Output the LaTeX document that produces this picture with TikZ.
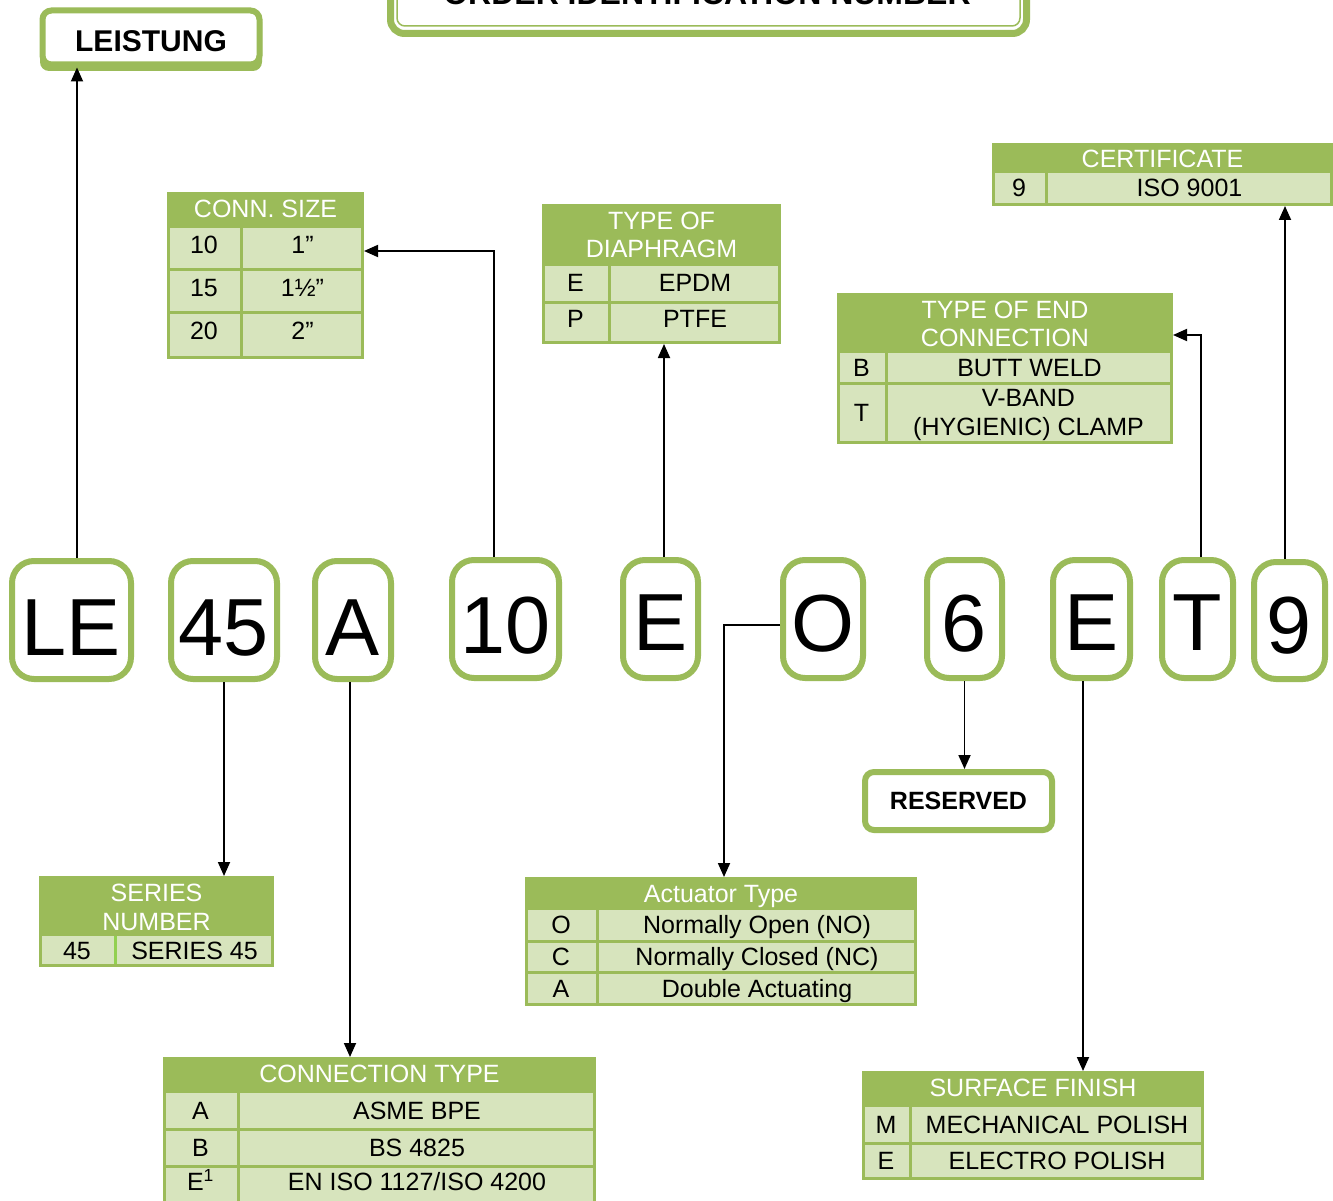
\documentclass[tikz,border=0pt]{standalone}
\usepackage{fontspec}
\setmainfont{Liberation Sans}
\usetikzlibrary{arrows.meta}
\definecolor{grn}{HTML}{9BBB59}
\definecolor{lgrn}{HTML}{D7E4BD}
\definecolor{bgrn}{HTML}{92D050}
\tikzset{
  lbox/.style={draw=grn, line width=6pt, rounded corners=22pt, fill=white, inner sep=0pt, font=\fontsize{81}{81}\selectfont},
  frame/.style={fill=grn, inner sep=0pt, outer sep=0pt, anchor=north west},
  tx/.style={font=\fontsize{25}{28.5}\selectfont, inner sep=0pt, text height=17.9pt, text depth=0pt},
  mtx/.style={font=\fontsize{25}{28.5}\selectfont, inner sep=0pt, align=center},
  htx/.style={tx, text=white},
  hmtx/.style={mtx, text=white},
  bbox/.style={draw=grn, line width=6pt, rounded corners=9pt, fill=white, inner sep=0pt},
  arr/.style={line width=1.8pt, -{Triangle[length=14pt,width=12pt]}},
}
\newcommand\lbx[7]{\node[lbox, minimum width={#4-#2-6}, minimum height={#5-#3-6}, text height=#7, text depth=0pt] (#1) at ({(#2+#4)/2},{(#3+#5)/2}) {#6};}
\newcommand\tfr[5]{\node[frame, minimum width={#4-#2}, minimum height={#5-#3}] (#1) at (#2,#3) {};}
% row: name, x1, xsplit, x2, ytop, ybottom, left, right, text y offset
\newcommand\trow[9]{%
  \fill[lgrn] (#2+3,#5+1.5) rectangle (#3-1.5,#6-1.5);
  \fill[lgrn] (#3+1.5,#5+1.5) rectangle (#4-3,#6-1.5);
  \node[tx] (#1l) at ({(#2+#3)/2},{(#5+#6)/2+#9}) {#7};
  \node[tx] (#1r) at ({(#3+#4)/2},{(#5+#6)/2+#9}) {#8};}
\begin{document}
\begin{tikzpicture}[x=1pt,y=-1pt]
\useasboundingbox[fill=white] (0,0) rectangle (1333,1201);

% title box (cut off at top, as in the reference)
\draw[grn, line width=7pt, rounded corners=14pt] (390.5,-80) rectangle (1026.5,33.5);
\draw[grn, line width=1.5pt, rounded corners=8pt] (397,-80) rectangle (1020,26);
\node[font=\bfseries\fontsize{32}{32}\selectfont, anchor=base, inner sep=0pt] (title) at (707,5) {ORDER IDENTIFICATION NUMBER};

% LEISTUNG
\fill[grn, rounded corners=9pt] (40,13) rectangle (262,71);
\node[bbox, minimum width=217, minimum height=54, font=\bfseries\fontsize{30}{30}\selectfont, text height=27.5pt, text depth=0pt] (leist) at (151,37.5) {LEISTUNG};

% RESERVED
\node[bbox, minimum width=187, minimum height=58, font=\bfseries\fontsize{25}{25}\selectfont, text height=17.9pt, text depth=0pt] (resv) at (958.5,801) {RESERVED};

% letter boxes
\lbx{bLE}{9}{558}{134}{682}{LE}{70pt}
\lbx{b45}{168}{558}{280}{682}{45}{70pt}
\lbx{bA}{312}{558}{394}{682}{A}{70pt}
\lbx{b10}{449}{557}{562}{681}{10}{68pt}
\lbx{bE1}{620}{557}{701}{681}{E}{62pt}
\lbx{bO}{780}{557}{866}{681}{O}{64pt}
\lbx{b6}{924}{557}{1005}{681}{6}{64pt}
\lbx{bE2}{1050}{557}{1133}{681}{E}{62pt}
\lbx{bT}{1159}{557}{1236}{681}{T}{62pt}
\lbx{b9}{1251}{559}{1328}{682}{9}{65pt}

% CONN. SIZE
\tfr{conn}{167}{192}{364}{359}
\node[htx] (connh) at (265.5,209) {CONN. SIZE};
\trow{csa}{167}{241}{364}{226.5}{269.5}{10}{1”}{-3}
\trow{csb}{167}{241}{364}{269.5}{312.5}{15}{1½”}{-3}
\trow{csc}{167}{241}{364}{312.5}{357.5}{20}{2”}{-4}

% TYPE OF DIAPHRAGM
\tfr{diaph}{542}{204}{781}{344}
\node[hmtx] (diaphh) at (661.5,235) {TYPE OF\\DIAPHRAGM};
\trow{dpa}{542}{609}{781}{264.5}{302}{E}{EPDM}{-1}
\trow{dpb}{542}{609}{781}{302}{342.5}{P}{PTFE}{-4}

% CERTIFICATE
\tfr{cert}{992}{143}{1333}{206}
\node[htx] (certh) at (1162.5,159) {CERTIFICATE};
\trow{cea}{992}{1046}{1333}{171.5}{204.5}{9}{ISO 9001}{0}

% TYPE OF END CONNECTION
\tfr{endc}{837}{293}{1173}{444}
\node[hmtx] (endch) at (1005,324) {TYPE OF END\\CONNECTION};
\trow{eca}{837}{886}{1173}{351.5}{383}{B}{BUTT WELD}{0}
\fill[lgrn] (840,384.5) rectangle (884.5,441);
\fill[lgrn] (887.5,384.5) rectangle (1170,441);
\node[tx] (ecbl) at (861.5,413) {T};
\node[mtx] (ecbr) at (1028.5,415) {V-BAND\\(HYGIENIC) CLAMP};

% SERIES NUMBER
\tfr{series}{39}{876}{274}{967}
\node[hmtx] (seriesh) at (156.5,907.5) {SERIES\\NUMBER};
\trow{sna}{39}{115}{274}{934.5}{965.5}{45}{SERIES 45}{1}
\fill[bgrn] (113.5,936) rectangle (116.5,964);

% Actuator Type
\tfr{act}{525}{877}{917}{1006}
\node[htx] (acth) at (721,894) {Actuator Type};
\trow{ata}{525}{597}{917}{908.5}{941}{O}{Normally Open (NO)}{0}
\trow{atb}{525}{597}{917}{941}{972}{C}{Normally Closed (NC)}{0}
\trow{atc}{525}{597}{917}{972}{1004.5}{A}{Double Actuating}{0}

% CONNECTION TYPE
\tfr{ctype}{163}{1057}{596}{1230}
\node[htx] (ctypeh) at (379.5,1074) {CONNECTION TYPE};
\trow{cta}{163}{238}{596}{1091.5}{1129}{A}{ASME BPE}{0}
\trow{ctb}{163}{238}{596}{1129}{1166}{B}{BS 4825}{0}
\fill[lgrn] (166,1167.5) rectangle (236.5,1230);
\fill[lgrn] (239.5,1167.5) rectangle (593,1230);
\node[tx] (ctcl) at (200.5,1182) {E\textsuperscript{1}};
\node[tx] (ctcr) at (417,1182) {EN ISO 1127/ISO 4200};

% SURFACE FINISH
\tfr{surf}{862}{1071}{1204}{1180}
\node[htx] (surfh) at (1033,1088) {SURFACE FINISH};
\trow{sfa}{862}{910}{1204}{1105.5}{1143}{M}{MECHANICAL POLISH}{0}
\trow{sfb}{862}{910}{1204}{1143}{1178.5}{E}{ELECTRO POLISH}{0}

% helper coordinates
\coordinate (vLE) at (77,0);
\coordinate (vA) at (350,0);
\coordinate (v10) at (494,0);
\coordinate (h10) at (0,251);
\coordinate (vE1) at (664,0);
\coordinate (hO) at (0,625);
\coordinate (vO) at (724,0);
\coordinate (vE2) at (1083,0);
\coordinate (vT) at (1201,0);
\coordinate (hT) at (0,335);
\coordinate (v9) at (1285,0);

% connectors
\draw[arr] (vLE |- bLE.north) -- (vLE |- leist.south);
\draw[arr] (b45.south) -- (b45.south |- series.north);
\draw[arr] (vA |- bA.south) -- (vA |- ctype.north);
\draw[arr] (v10 |- b10.north) |- (conn.east |- h10);
\draw[arr] (vE1 |- bE1.north) -- (vE1 |- diaph.south);
\draw[arr] (bO.west |- hO) -| (vO |- act.north);
\draw[arr] (b6.south) -- (b6.south |- resv.north);
\draw[arr] (vE2 |- bE2.south) -- (vE2 |- surf.north);
\draw[arr] (vT |- bT.north) |- (endc.east |- hT);
\draw[arr] (v9 |- b9.north) -- (v9 |- cert.south);
\end{tikzpicture}
\end{document}
